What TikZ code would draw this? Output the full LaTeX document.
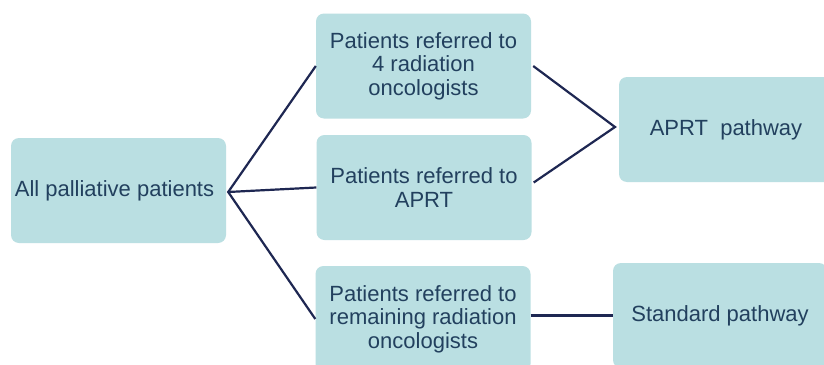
\documentclass[tikz,border=0pt]{standalone}
\usepackage{fontspec}
\setmainfont{Liberation Sans}
\definecolor{boxfill}{HTML}{BADFE2}
\definecolor{boxtext}{HTML}{22405E}
\definecolor{linecol}{HTML}{1E2752}
\begin{document}
\begin{tikzpicture}[x=1pt,y=-1pt,
  box/.style={rectangle, rounded corners=8pt, fill=boxfill, text=boxtext,
    minimum width=215pt, minimum height=105pt, inner sep=0pt, align=center,
    font=\fontsize{22}{23.5}\selectfont},
  link/.style={draw=linecol, line width=2.2pt}]
\useasboundingbox (0,0) rectangle (824,364);
\clip (0,0) rectangle (824,364);
\fill[white] (0,0) rectangle (824,364);
\node[box] (A) at (118.5,190.5) {\hspace*{-8pt}All palliative patients};
\node[box] (B1) at (423.5,66) {Patients referred to\\4 radiation\\oncologists};
\node[box, minimum height=105pt] (B2) at (424,187.5) {Patients referred to\\APRT};
\node[box, minimum height=106pt] (B3) at (423,319) {Patients referred to\\remaining radiation\\oncologists};
\node[box, minimum width=214pt] (C1) at (726,129.5) {APRT\ \ pathway};
\node[box, minimum width=214pt] (C2) at (720,315.5) {Standard\ pathway};
\coordinate (F) at ([xshift=2pt,yshift=-1.5pt]A.east);
\coordinate (J) at (615,127);
\draw[link] (B1.west) -- (F) -- (B3.west);
\draw[link] (F) -- (B2.west);
\draw[link] ([xshift=2pt]B1.east) -- (J) -- ([xshift=2pt,yshift=5pt]B2.east);
\draw[link] (B3.east |- C2.west) -- (C2.west);
\end{tikzpicture}
\end{document}
